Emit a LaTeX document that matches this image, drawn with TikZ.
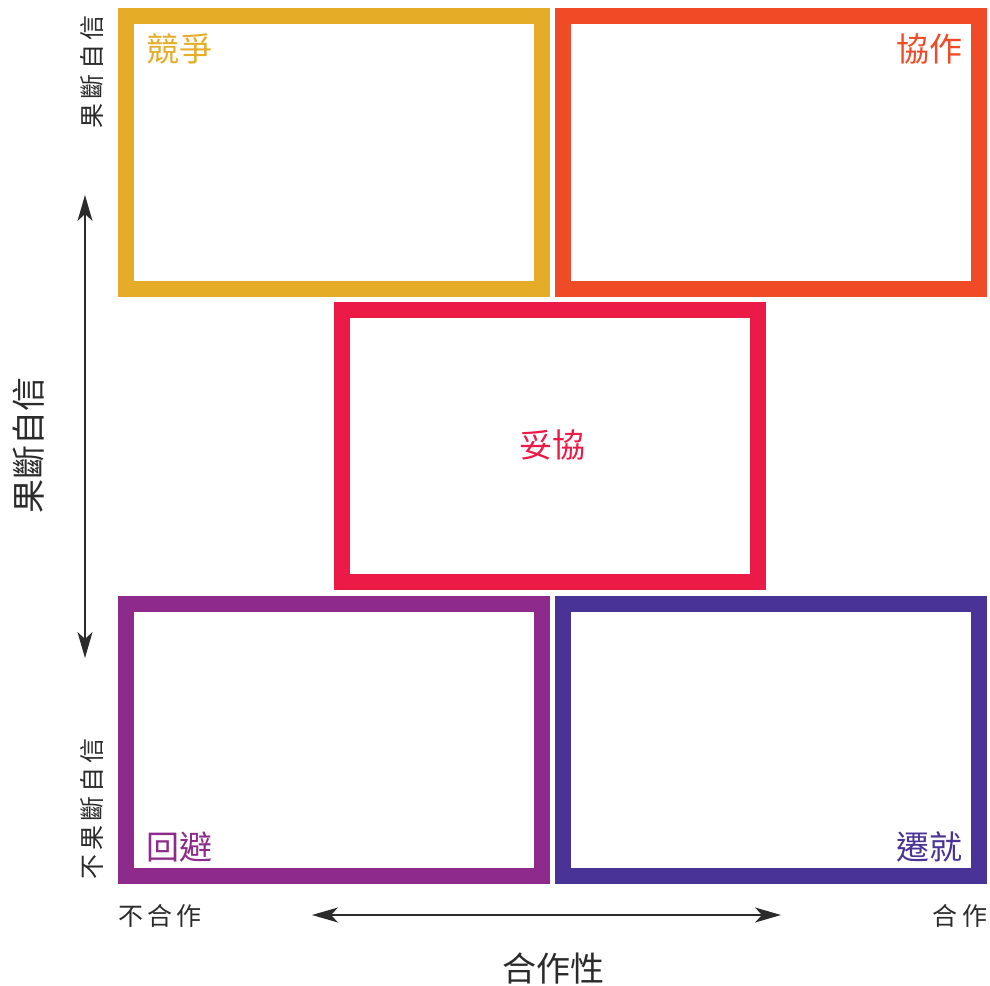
\documentclass[tikz,border=0pt]{standalone}
\usepackage{fontspec}
\setmainfont{Noto Sans CJK TC}
\usetikzlibrary{arrows.meta}
\definecolor{cgold}{HTML}{E5AC27}
\definecolor{corange}{HTML}{EE4B26}
\definecolor{ccrimson}{HTML}{EB1A47}
\definecolor{cpurple}{HTML}{8E2A8B}
\definecolor{cindigo}{HTML}{4A3396}
\definecolor{ctext}{HTML}{2B2B2B}
\tikzset{
  frame/.style={line width=16pt},
  boxlabel/.style={font=\fontsize{33}{33}\selectfont, inner sep=0pt},
  axlabel/.style={font=\fontsize{25}{25}\selectfont, text=ctext, inner sep=0pt},
  axtitle/.style={font=\fontsize{34}{34}\selectfont, text=ctext, inner sep=0pt},
  axarrow/.style={draw=ctext, line width=1.3pt, {Stealth[length=26pt,width=15pt,inset=7pt]}-{Stealth[length=26pt,width=15pt,inset=7pt]}}
}
\begin{document}
\begin{tikzpicture}[x=1pt,y=-1pt]
\useasboundingbox (0,0) rectangle (990,985);
% boxes
\draw[frame, cgold] (126,16) rectangle (542,289);
\draw[frame, corange] (563,16) rectangle (979,289);
\draw[frame, ccrimson] (342,310) rectangle (758,582);
\draw[frame, cpurple] (126,604) rectangle (542,876);
\draw[frame, cindigo] (563,604) rectangle (979,876);
% box labels
\node[boxlabel, text=cgold] (comp) at (179,49) {競爭};
\node[boxlabel, text=corange] (coll) at (929,49) {協作};
\node[boxlabel, text=ccrimson] (compr) at (552,445) {妥協};
\node[boxlabel, text=cpurple] (avoid) at (179,847) {回避};
\node[boxlabel, text=cindigo] (accom) at (929,847) {遷就};
% axis labels
\node[axlabel, rotate=90] (assert) at (92,72) {果\,斷\,自\,信};
\node[axlabel, rotate=90] (unassert) at (92,809) {不\,果\,斷\,自\,信};
\node[axtitle, rotate=90] (atitle) at (29,445) {果斷自信};
\node[axlabel] (uncoop) at (160,916) {不\,合\,作};
\node[axlabel] (coop) at (960,916) {合\,作};
\node[axtitle] (ctitle) at (553,968) {合作性};
% arrows
\coordinate (vtop) at (85,195);
\coordinate (vbot) at (85,658);
\coordinate (hleft) at (312,915);
\coordinate (hright) at (781,915);
\draw[axarrow] (vtop) -- (vbot);
\draw[axarrow] (hleft) -- (hright);
\end{tikzpicture}
\end{document}
